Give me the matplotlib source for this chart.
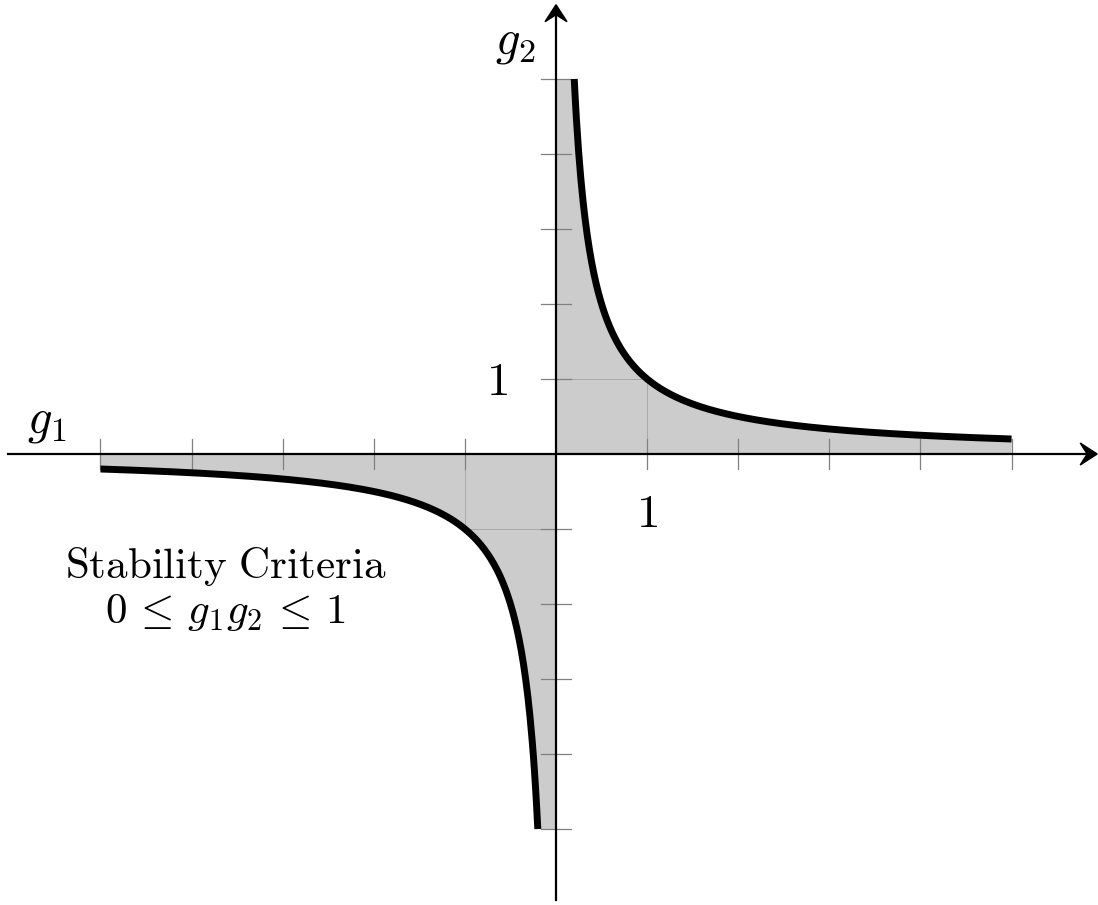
import numpy as np
import matplotlib
matplotlib.use('Agg')
import matplotlib.pyplot as plt
from matplotlib.patches import Polygon

plt.rcParams['mathtext.fontset'] = 'cm'
plt.rcParams['font.family'] = ['DejaVu Serif']

# domain of the stability boundary g1*g2 = 1
g1_min, g1_max = 0.2, 5.0
product_max = 1.0
ticks = [-5, -4, -3, -2, -1, 1, 2, 3, 4, 5]

g1_pos = np.linspace(g1_min, g1_max, 400)
g2_pos = product_max / g1_pos
g1_neg = -g1_pos[::-1]
g2_neg = product_max / g1_neg

fig = plt.figure(figsize=(10.98, 9.05), dpi=100)
ax = fig.add_axes([0, 0, 1, 1])
ax.set_xlim(-6.103, 5.949)
ax.set_ylim(-6.013, 6.053)
ax.axis('off')

# unit per pixel in each direction
ux = (ax.get_xlim()[1] - ax.get_xlim()[0]) / 1098
uy = (ax.get_ylim()[1] - ax.get_ylim()[0]) / 905

# shaded stable region
ax.fill(np.r_[0, 0, g1_pos, g1_max], np.r_[0, g2_pos[0], g2_pos, 0],
        color='#cccccc', lw=0, zorder=1)
ax.fill(np.r_[-g1_max, g1_neg, 0, 0], np.r_[0, g2_neg, g2_neg[-1], 0],
        color='#cccccc', lw=0, zorder=1)

# unit squares
gc = '#a8a8a8'
ax.plot([1, 1], [0, 1], color=gc, lw=0.7, zorder=2)
ax.plot([0, 1], [1, 1], color=gc, lw=0.7, zorder=2)
ax.plot([-1, -1], [0, -1], color=gc, lw=0.7, zorder=2)
ax.plot([-1, 0], [-1, -1], color=gc, lw=0.7, zorder=2)

# tick marks
for t in ticks:
    ax.plot([t, t], [-15 * uy, 15 * uy], color='#808080', lw=0.9, zorder=3)
    ax.plot([-15 * ux, 15 * ux], [t, t], color='#808080', lw=0.9, zorder=3)

# axes with stealth arrow heads
x0, x1 = -6.02, 5.94
y0, y1 = -5.95, 5.99
ax.plot([x0, x1 - 10 * ux], [0, 0], color='black', lw=1.6, zorder=4)
ax.plot([0, 0], [y0, y1 - 10 * uy], color='black', lw=1.6, zorder=4)

L, W, N = 17, 11, 7
ax.add_patch(Polygon([(x1, 0), (x1 - L * ux, W * uy), (x1 - (L - N) * ux, 0),
                      (x1 - L * ux, -W * uy)], closed=True, color='black', zorder=4))
ax.add_patch(Polygon([(0, y1), (W * ux, y1 - L * uy), (0, y1 - (L - N) * uy),
                      (-W * ux, y1 - L * uy)], closed=True, color='black', zorder=4))

# boundary g1*g2 = 1
ax.plot(g1_pos, g2_pos, color='black', lw=5, solid_capstyle='butt', zorder=5)
ax.plot(g1_neg, g2_neg, color='black', lw=5, solid_capstyle='butt', zorder=5)

ax.text(-5.59, 0.43, r'$g_1$', fontsize=35, ha='center', va='center')
ax.text(-0.45, 5.49, r'$g_2$', fontsize=35, ha='center', va='center')
ax.text(-0.65, 0.96, r'$1$', fontsize=34, ha='center', va='center')
ax.text(1.0, -0.81, r'$1$', fontsize=34, ha='center', va='center')
ax.text(-3.63, -1.50, r'$\mathrm{Stability\ Criteria}$', fontsize=31,
        ha='center', va='center')
ax.text(-3.63, -2.10, r'$0 \,\leq\, g_1 g_2 \,\leq\, 1$', fontsize=31,
        ha='center', va='center')

fig.savefig('out.png', dpi=100)
